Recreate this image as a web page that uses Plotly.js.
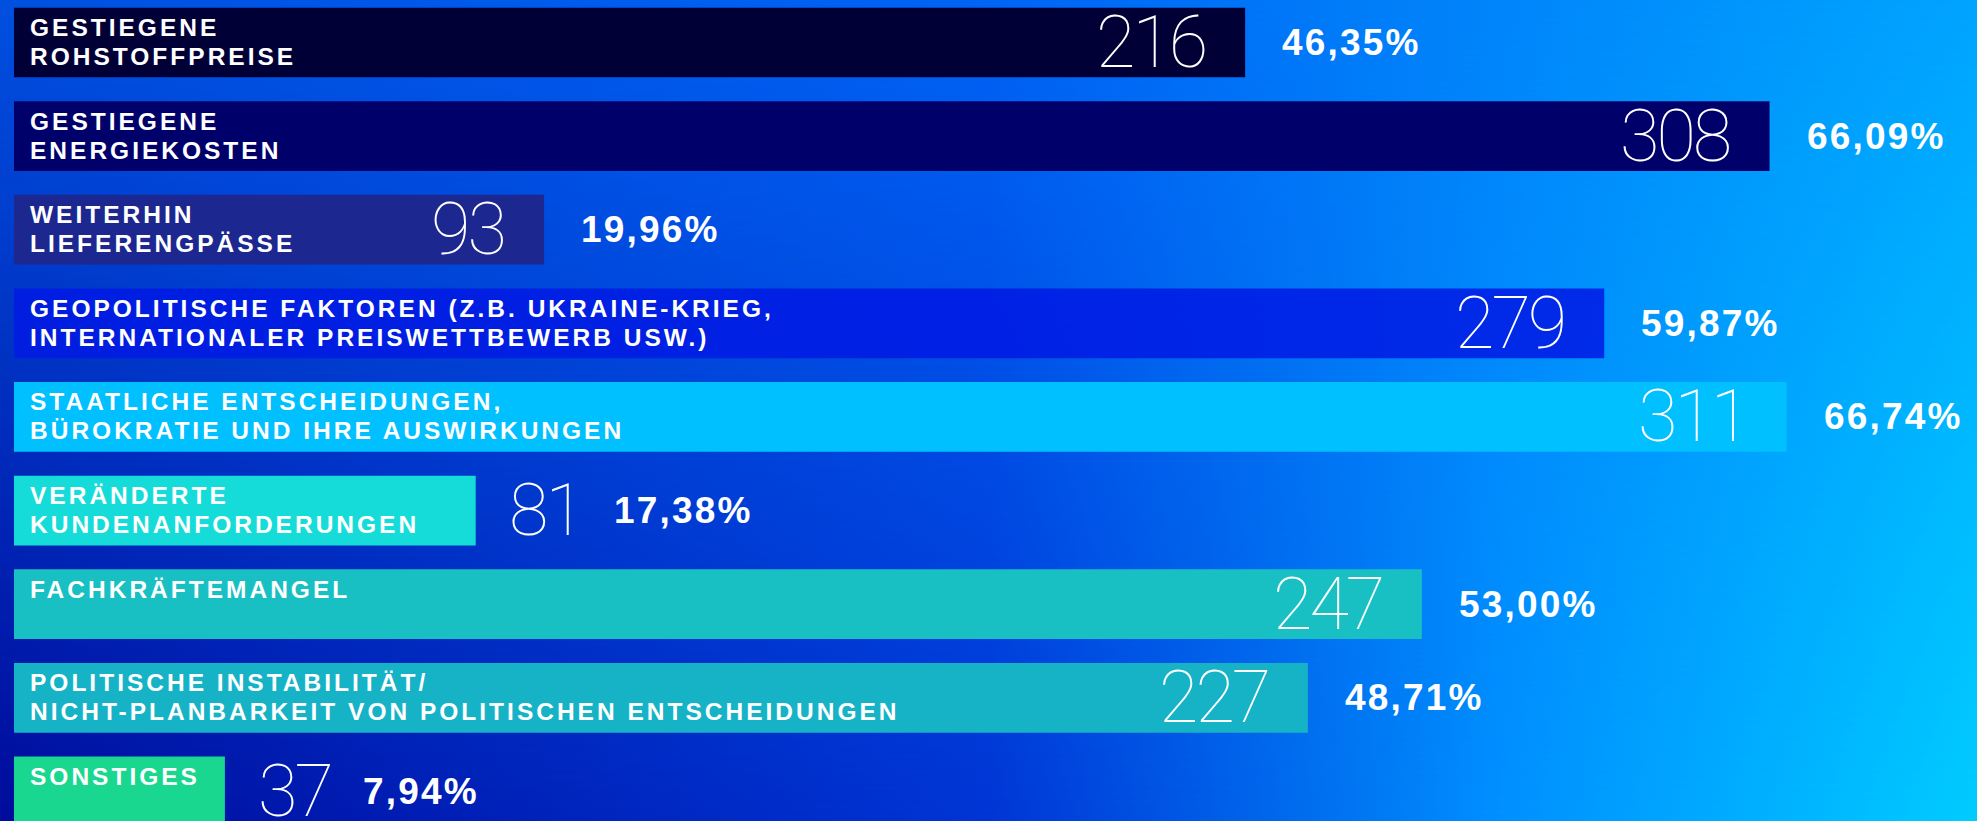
<!DOCTYPE html>
<html>
<head>
<meta charset="utf-8">
<script src="https://cdn.plot.ly/plotly-3.0.1.min.js"></script>
<style>
html, body { margin:0; padding:0; width:1977px; height:821px; overflow:hidden; background:#0030d0; }
#bg { position:absolute; left:0; top:0; width:1977px; height:821px;
  background: linear-gradient(to right, #000c9c 0%, #0035d5 50%, #0090ff 76%, #00ccff 100%); }
#bgtop { position:absolute; left:0; top:0; width:1977px; height:821px;
  background: linear-gradient(to right, #0050e0 0%, #0064f5 50%, #00a4ff 100%);
  -webkit-mask-image: linear-gradient(to bottom, #000 0%, rgba(0,0,0,0) 100%);
  mask-image: linear-gradient(to bottom, #000 0%, rgba(0,0,0,0) 100%); }
#chart { position:absolute; left:0; top:0; width:1977px; height:821px; }
text.annotation-text[style*="font-size: 24.5px"] { letter-spacing: 3px; }
text.annotation-text[style*="font-size: 37px"] { letter-spacing: 2.2px; }
text.annotation-text[style*="font-size: 72px"] { letter-spacing: -3px; }
</style>
</head>
<body>
<div id="bg"></div>
<div id="bgtop"></div>
<div id="chart"></div>
<script>
// ---- data ----
const categories = [
  "GESTIEGENE<br>ROHSTOFFPREISE",
  "GESTIEGENE<br>ENERGIEKOSTEN",
  "WEITERHIN<br>LIEFERENGPÄSSE",
  "GEOPOLITISCHE FAKTOREN (Z.B. UKRAINE-KRIEG,<br>INTERNATIONALER PREISWETTBEWERB USW.)",
  "STAATLICHE ENTSCHEIDUNGEN,<br>BÜROKRATIE UND IHRE AUSWIRKUNGEN",
  "VERÄNDERTE<br>KUNDENANFORDERUNGEN",
  "FACHKRÄFTEMANGEL",
  "POLITISCHE INSTABILITÄT/<br>NICHT-PLANBARKEIT VON POLITISCHEN ENTSCHEIDUNGEN",
  "SONSTIGES"
];
const counts   = [216, 308, 93, 279, 311, 81, 247, 227, 37];
const percents = [46.35, 66.09, 19.96, 59.87, 66.74, 17.38, 53.00, 48.71, 7.94];
const barColors = [
  "#000036", "#00006a", "#1c2790", "rgba(0,26,228,0.86)", "#00c0ff",
  "#16dcd9", "#18c0c4", "#16b2c6", "#1ad78f"
];

// ---- layout constants ----
const W = 1977, H = 821, ML = 14;
const XMAX = 344.4;
const pxPerUnit = (W - ML) / XMAX;
const Y_RANGE = [8.316, -0.454];

const LABEL_FONT = {family: '"Liberation Sans", Arial, sans-serif', size: 24.5, color: '#ffffff', weight: 700};
const NUM_FONT   = {family: 'Roboto, Inter, Lato, sans-serif', size: 72, color: '#ffffff', weight: 100};
const PCT_FONT   = {family: '"Liberation Sans", Arial, sans-serif', size: 37, color: '#ffffff', weight: 700};

const ctx = document.createElement('canvas').getContext('2d');
function measure(txt, f, spacing) {
  ctx.font = f.weight + ' ' + f.size + 'px ' + f.family;
  return ctx.measureText(txt).width + spacing * txt.length;
}
function fmtPct(p) { return p.toFixed(2).replace('.', ',') + '%'; }

const annotations = [];
categories.forEach((cat, i) => {
  const lines = cat.split('<br>');
  let labelW = 0;
  lines.forEach((ln, j) => {
    labelW = Math.max(labelW, measure(ln, LABEL_FONT, 3));
    annotations.push({
      x: 0, y: cat, xref: 'x', yref: 'y', xanchor: 'left', yanchor: 'middle',
      xshift: 14, yshift: 15 - 29 * j, text: ln, showarrow: false, align: 'left',
      font: LABEL_FONT
    });
  });
  const numTxt = String(counts[i]);
  const numW = measure(numTxt, NUM_FONT, -3);
  const barPx = counts[i] * pxPerUnit;
  const inside = (barPx - 40 - numW) >= (16 + labelW + 30);
  annotations.push({
    x: counts[i], y: cat, xref: 'x', yref: 'y',
    xanchor: inside ? 'right' : 'left', yanchor: 'middle',
    xshift: inside ? -38 : 31, yshift: 0, text: numTxt, showarrow: false,
    align: inside ? 'right' : 'left', font: NUM_FONT
  });
  annotations.push({
    x: counts[i], y: cat, xref: 'x', yref: 'y', xanchor: 'left', yanchor: 'middle',
    xshift: inside ? 35 : (31 + numW + 2 + 30), yshift: 0,
    text: fmtPct(percents[i]), showarrow: false, align: 'left', font: PCT_FONT
  });
});

const trace = {
  type: 'bar', orientation: 'h',
  x: counts, y: categories, width: 0.745,
  marker: {color: barColors, line: {width: 0}},
  hoverinfo: 'skip', textposition: 'none'
};

const layout = {
  width: W, height: H,
  margin: {l: ML, r: 0, t: 0, b: 0, pad: 0},
  paper_bgcolor: 'rgba(0,0,0,0)', plot_bgcolor: 'rgba(0,0,0,0)',
  showlegend: false,
  xaxis: {range: [0, XMAX], visible: false, fixedrange: true},
  yaxis: {type: 'category', range: Y_RANGE, visible: false, fixedrange: true},
  annotations: annotations
};

Plotly.newPlot('chart', [trace], layout, {staticPlot: true, displayModeBar: false});
</script>
</body>
</html>
